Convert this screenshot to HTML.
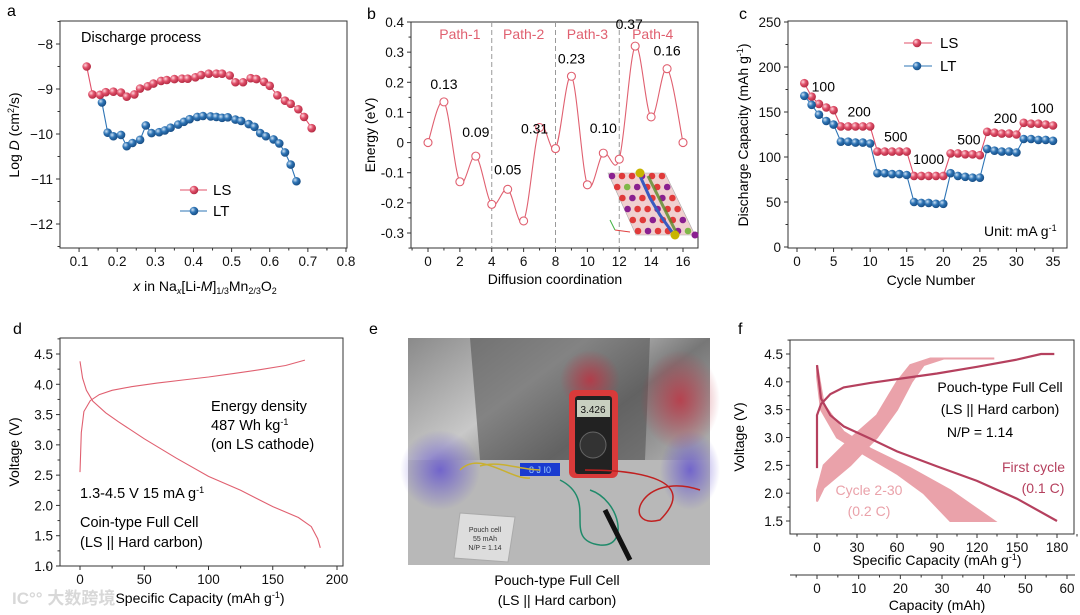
<!DOCTYPE html>
<html><head><meta charset="utf-8">
<style>
html,body{margin:0;padding:0;background:#fff;}
svg{display:block;font-family:"Liberation Sans","Noto Sans CJK SC",sans-serif;}
</style></head>
<body>
<svg id="fig" width="1080" height="615" viewBox="0 0 1080 615" xmlns="http://www.w3.org/2000/svg">
<defs>
<radialGradient id="gr" cx="0.35" cy="0.35" r="0.7"><stop offset="0" stop-color="#ffd6dc"/><stop offset="0.45" stop-color="#e0506a"/><stop offset="1" stop-color="#b02840"/></radialGradient>
<radialGradient id="gb" cx="0.35" cy="0.35" r="0.7"><stop offset="0" stop-color="#cfe3f5"/><stop offset="0.45" stop-color="#2e74b5"/><stop offset="1" stop-color="#164a80"/></radialGradient>
<linearGradient id="photo" x1="0" y1="0" x2="1" y2="1"><stop offset="0" stop-color="#8a8a8a"/><stop offset="0.3" stop-color="#c8c8c8"/><stop offset="0.5" stop-color="#777"/><stop offset="0.8" stop-color="#bdbdbd"/><stop offset="1" stop-color="#999"/></linearGradient>
<radialGradient id="redglow" cx="0.5" cy="0.5" r="0.5"><stop offset="0" stop-color="#c03040" stop-opacity="0.8"/><stop offset="1" stop-color="#c03040" stop-opacity="0"/></radialGradient>
<radialGradient id="blueglow" cx="0.5" cy="0.5" r="0.5"><stop offset="0" stop-color="#6050d0" stop-opacity="0.8"/><stop offset="1" stop-color="#6050d0" stop-opacity="0"/></radialGradient>
</defs>
</svg>
<script>
// ---------- Panel a data ----------
const aLSx=[0.12,0.135,0.155,0.17,0.19,0.21,0.225,0.245,0.26,0.28,0.295,0.315,0.33,0.35,0.37,0.385,0.405,0.42,0.44,0.46,0.475,0.495,0.51,0.53,0.55,0.565,0.585,0.60,0.62,0.64,0.655,0.675,0.69,0.71];
const aLSy=[-8.5,-9.12,-9.13,-9.07,-9.06,-9.08,-9.17,-9.12,-8.99,-8.94,-8.88,-8.82,-8.80,-8.78,-8.77,-8.77,-8.74,-8.69,-8.66,-8.66,-8.66,-8.70,-8.85,-8.85,-8.76,-8.78,-8.84,-8.93,-9.14,-9.26,-9.33,-9.45,-9.62,-9.87];
const aLTx=[0.16,0.175,0.19,0.21,0.225,0.24,0.26,0.275,0.29,0.31,0.325,0.34,0.36,0.375,0.39,0.41,0.425,0.445,0.46,0.475,0.49,0.51,0.525,0.545,0.56,0.575,0.59,0.61,0.625,0.64,0.655,0.67];
const aLTy=[-9.3,-9.97,-10.05,-10.02,-10.27,-10.2,-10.13,-9.81,-9.98,-9.96,-9.92,-9.86,-9.79,-9.73,-9.67,-9.62,-9.6,-9.61,-9.62,-9.64,-9.63,-9.68,-9.71,-9.78,-9.84,-9.98,-10.05,-10.12,-10.21,-10.41,-10.68,-11.05];
const aXTicks=["0.1","0.2","0.3","0.4","0.5","0.6","0.7","0.8"];
const aYTicks=["−8","−9","−10","−11","−12"];
// ---------- Panel b data ----------
const bX=[0,1,2,3,4,5,6,7,8,9,10,11,12,13,14,15,16];
const bY=[0,0.135,-0.13,-0.045,-0.205,-0.155,-0.26,0.05,-0.02,0.22,-0.14,-0.035,-0.055,0.32,0.085,0.245,0];
const bBarrierX=[1,3,5,7,9,11,13,15];
const bBarrierLabels=["0.13","0.09","0.05","0.31","0.23","0.10","0.37","0.16"];
const bXTicks=["0","2","4","6","8","10","12","14","16"];
const bYTicks=["0.4","0.3","0.2","0.1","0","-0.1","-0.2","-0.3"];
const bPaths=["Path-1","Path-2","Path-3","Path-4"];
// ---------- Panel c data ----------
const cCycles=[1,2,3,4,5,6,7,8,9,10,11,12,13,14,15,16,17,18,19,20,21,22,23,24,25,26,27,28,29,30,31,32,33,34,35];
const cLS=[182,167,159,155,152,134,134,134,134,134,106,106,106,106,106,79,79,79,79,79,104,104,103,103,102,128,127,126,126,125,138,137,137,136,135];
const cLT=[168,158,147,140,136,117,117,116,116,115,82,82,81,81,80,50,49,49,48,48,82,79,78,77,77,109,107,106,106,105,120,120,119,119,118];
const cRates=["100","200","500","1000","500","200","100"];
const cRateX=[3.6,8.5,13.5,18,23.5,28.5,33.5];
const cRateY=[173,145,117,92,114,138,149];
const cXTicks=["0","5","10","15","20","25","30","35"];
const cYTicks=["0","50","100","150","200","250"];
// ---------- Panel d data ----------
const dChgX=[0,1,3,8,15,25,40,60,80,100,120,140,160,175];
const dChgY=[2.55,3.2,3.55,3.73,3.83,3.9,3.96,4.02,4.07,4.12,4.18,4.24,4.31,4.4];
const dDisX=[0,2,5,10,20,30,50,75,100,125,150,170,180,185,187];
const dDisY=[4.38,4.1,3.9,3.72,3.53,3.38,3.1,2.78,2.48,2.25,1.98,1.8,1.65,1.45,1.3];
const dXTicks=["0","50","100","150","200"];
const dYTicks=["1.0","1.5","2.0","2.5","3.0","3.5","4.0","4.5"];
// ---------- Panel f data ----------
const fChgX=[0,0,3,10,20,40,60,90,120,150,168,178];
const fChgY=[2.45,3.4,3.6,3.78,3.9,3.98,4.05,4.15,4.27,4.4,4.5,4.5];
const fDisX=[0,3,10,20,40,60,90,120,150,180];
const fDisY=[4.3,3.7,3.4,3.2,2.98,2.75,2.48,2.22,1.9,1.5];
const fBandChgAX=[0,0,5,26,45,60,70,85,133];
const fBandChgAY=[1.85,2.05,2.5,3.0,3.4,4.0,4.3,4.42,4.42];
const fBandChgBX=[0,5,25,45,60,71,80,95];
const fBandChgBY=[1.85,2.1,2.5,3.0,3.5,4.0,4.3,4.42];
const fBandDisAX=[0,5,20,40,70,100,115,133];
const fBandDisAY=[4.3,3.6,3.1,2.8,2.45,2.05,1.8,1.5];
const fBandDisBX=[0,3,15,35,60,80,92,100];
const fBandDisBY=[4.1,3.5,3.0,2.7,2.35,2.0,1.7,1.5];
const fXTicks=["0","30","60","90","120","150","180"];
const fX2Ticks=["0","10","20","30","40","50","60"];
const fYTicks=["1.5","2.0","2.5","3.0","3.5","4.0","4.5"];

const NS="http://www.w3.org/2000/svg";
const svg=document.getElementById('fig');
function mk(tag,attrs,parent,text){const e=document.createElementNS(NS,tag);for(const k in attrs)e.setAttribute(k,attrs[k]);if(text!==undefined)e.textContent=text;(parent||svg).appendChild(e);return e;}
function lin(d0,d1,p0,p1){return v=>p0+(v-d0)*(p1-p0)/(d1-d0);}
function poly(xs,ys,sx,sy){return xs.map((x,i)=>sx(x).toFixed(1)+','+sy(ys[i]).toFixed(1)).join(' ');}
function smooth(xs,ys,sx,sy){const P=xs.map((x,i)=>[sx(x),sy(ys[i])]);let d='M'+P[0][0]+','+P[0][1];for(let i=0;i<P.length-1;i++){const p0=P[i-1]||P[i],p1=P[i],p2=P[i+1],p3=P[i+2]||p2;d+=' C'+(p1[0]+(p2[0]-p0[0])/6)+','+(p1[1]+(p2[1]-p0[1])/6)+' '+(p2[0]-(p3[0]-p1[0])/6)+','+(p2[1]-(p3[1]-p1[1])/6)+' '+p2[0]+','+p2[1];}return d;}
function box(g,l,t,r,b){mk('rect',{x:l,y:t,width:r-l,height:b-t,fill:'none',stroke:'#333','stroke-width':1},g);}
function xticks(g,vals,labels,sx,y,minorVals,fs){vals.forEach((v,i)=>{const x=sx(v);mk('line',{x1:x,y1:y,x2:x,y2:y+4,stroke:'#333'},g);const t=mk('text',{x:x,y:y+18,'text-anchor':'middle','font-size':fs||13.5,fill:'#111'},g,labels[i]);});(minorVals||[]).forEach(v=>{const x=sx(v);mk('line',{x1:x,y1:y,x2:x,y2:y+2.5,stroke:'#333'},g);});}
function yticks(g,vals,labels,sy,x,minorVals,fs){vals.forEach((v,i)=>{const y=sy(v);mk('line',{x1:x,y1:y,x2:x-4,y2:y,stroke:'#333'},g);const t=mk('text',{x:x-7,y:y+5,'text-anchor':'end','font-size':fs||13.5,fill:'#111'},g,labels[i]);});(minorVals||[]).forEach(v=>{const y=sy(v);mk('line',{x1:x,y1:y,x2:x-2.5,y2:y,stroke:'#333'},g);});}
function group(name){const g=mk('g',{});return g;}
function label(g,name,attrs,text){const t=mk('text',attrs,g,text);return t;}
function mids(a){const r=[];for(let i=0;i<a.length-1;i++)r.push((a[i]+a[i+1])/2);return r;}

// ================= Panel a =================
(function(){
const g=group('panel-a');
const L=60,T=21,R=347,B=248;
const sx=lin(0.05,0.8,60,346), sy=lin(-8,-12,44,224);
label(g,'panel-letter',{x:7,y:16,'font-size':16},'a');
box(g,L,T,R,B);
const xv=aXTicks.map(Number);
xticks(g,xv,aXTicks,sx,B,mids(xv).concat([0.75]));
const yv=[-8,-9,-10,-11,-12];
yticks(g,yv,aYTicks,sy,L,mids(yv).concat([-7.5,-12.5]));
label(g,'y-axis-title',{transform:'translate(19,135) rotate(-90)','text-anchor':'middle','font-size':14},'').innerHTML='Log <tspan font-style="italic">D</tspan> (cm<tspan font-size="9" dy="-5">2</tspan><tspan dy="5">/s)</tspan>';
label(g,'x-axis-title',{x:205,y:291,'text-anchor':'middle','font-size':14},'').innerHTML='<tspan font-style="italic">x</tspan> in Na<tspan font-size="9" dy="3" font-style="italic">x</tspan><tspan dy="-3">[Li-</tspan><tspan font-style="italic">M</tspan>]<tspan font-size="9" dy="3">1/3</tspan><tspan dy="-3">Mn</tspan><tspan font-size="9" dy="3">2/3</tspan><tspan dy="-3">O</tspan><tspan font-size="9" dy="3">2</tspan>';
label(g,'annotation',{x:81,y:42,'font-size':14.5},'Discharge process');
[[aLTx,aLTy,'#2e74b5','gb','series-lt'],[aLSx,aLSy,'#e0506a','gr','series-ls']].forEach(s=>{
 const sg=mk('g',{},g);
 mk('polyline',{points:poly(s[0],s[1],sx,sy),fill:'none',stroke:s[2],'stroke-width':1.1},sg);
 s[0].forEach((x,i)=>{const c=mk('circle',{cx:sx(x),cy:sy(s[1][i]),r:4.3,fill:'url(#'+s[3]+')'},sg);});
});
[['LS',190,'#e0506a','gr'],['LT',211,'#2e74b5','gb']].forEach(l=>{const lg=mk('g',{},g);mk('line',{x1:180,y1:l[1],x2:207,y2:l[1],stroke:l[2],'stroke-width':1.1},lg);mk('circle',{cx:194,cy:l[1],r:4.3,fill:'url(#'+l[3]+')'},lg);mk('text',{x:213,y:l[1]+5,'font-size':15},lg,l[0]);});
})();

// ================= Panel b =================
(function(){
const g=group('panel-b');
const L=411,T=22,R=698,B=248;
const sx=lin(0,16,428,683), sy=lin(0.4,-0.3,22,233);
label(g,'panel-letter',{x:367,y:19,'font-size':16},'b');
box(g,L,T,R,B);
const xv=bXTicks.map(Number);
xticks(g,xv,bXTicks,sx,B,mids(xv).concat([-1,17]).filter(v=>sx(v)>L&&sx(v)<R));
const yv=bYTicks.map(Number);
yticks(g,yv,bYTicks,sy,L,mids(yv).concat([-0.35]));
label(g,'y-axis-title',{transform:'translate(375,135) rotate(-90)','text-anchor':'middle','font-size':14},'Energy (eV)');
label(g,'x-axis-title',{x:555,y:284,'text-anchor':'middle','font-size':14},'Diffusion coordination');
[4,8,12].forEach(v=>{const l=mk('line',{x1:sx(v),y1:T,x2:sx(v),y2:B,stroke:'#999','stroke-dasharray':'5,3','stroke-width':1},g);});
const pathX=[2,6,10,14.1];
bPaths.forEach((p,i)=>label(g,'path-label',{x:sx(pathX[i]),y:39,'text-anchor':'middle','font-size':14,fill:'#e06070'},p));
// inset crystal
const ig=mk('g',{},g);
mk('polygon',{points:'608,173 665,173 695,235 636,235',fill:'#f0d0d0',stroke:'#aaa','stroke-width':0.6},ig);
for(let r=0;r<6;r++)for(let c=0;c<6;c++){const x=612+c*10+r*5.2,y=176+r*11;mk('circle',{cx:x,cy:y,r:3.3,fill:(r+c)%3==0?'#8a2090':((r*c)%4==1?'#7fb848':'#e03a3a')},ig);}
mk('path',{d:'M640,176 L650,198 L660,215 L672,232',stroke:'#3a5bc0','stroke-width':3,fill:'none'},ig);
mk('path',{d:'M648,176 L665,210 L676,232',stroke:'#5a8a28','stroke-width':3,fill:'none',opacity:0.8},ig);
mk('circle',{cx:640,cy:173,r:4.5,fill:'#c8b400'},ig);mk('circle',{cx:675,cy:235,r:4.5,fill:'#c8b400'},ig);mk('circle',{cx:695,cy:235,r:3.5,fill:'#8a2090'},ig);
mk('line',{x1:615,y1:230,x2:630,y2:232,stroke:'#e04040'},ig);mk('line',{x1:615,y1:230,x2:610,y2:220,stroke:'#40b040'},ig);
// curve
const sg=mk('g',{},g);
mk('path',{d:smooth(bX,bY,sx,sy),fill:'none',stroke:'#e06070','stroke-width':1.1},sg);
bX.forEach((x,i)=>{const c=mk('circle',{cx:sx(x),cy:sy(bY[i]),r:4,fill:'#fff',stroke:'#e06070','stroke-width':1.1},sg);});
bBarrierLabels.forEach((t,i)=>{const xi=bBarrierX[i];label(g,'barrier-label',{x:sx(xi)+(i==3?-5:0)+(i==6?-6:0),y:sy(bY[xi])-(i==3?-6:13)+(i==6?-4:0)+(i==2?-2:0)+(i==1?-6:0)+(i==5?-7:0),'text-anchor':'middle','font-size':14},t);});
})();

// ================= Panel c =================
(function(){
const g=group('panel-c');
const L=788,T=21,R=1067,B=248;
const sx=lin(0,35,797,1053), sy=lin(0,250,247,22);
label(g,'panel-letter',{x:739,y:19,'font-size':16},'c');
box(g,L,T,R,B);
const xv=cXTicks.map(Number);
xticks(g,xv,cXTicks,sx,B,mids(xv));
const yv=cYTicks.map(Number);
yticks(g,yv,cYTicks,sy,L,mids(yv));
label(g,'y-axis-title',{transform:'translate(748,135) rotate(-90)','text-anchor':'middle','font-size':14},'').innerHTML='Discharge Capacity (mAh g<tspan font-size="9" dy="-5">-1</tspan><tspan dy="5">)</tspan>';
label(g,'x-axis-title',{x:931,y:285,'text-anchor':'middle','font-size':14},'Cycle Number');
[[cLS,'#e0506a','gr','series-ls'],[cLT,'#2e74b5','gb','series-lt']].forEach(s=>{
 const sg=mk('g',{},g);
 mk('polyline',{points:poly(cCycles,s[0],sx,sy),fill:'none',stroke:s[1],'stroke-width':1.1},sg);
 cCycles.forEach((x,i)=>{const c=mk('circle',{cx:sx(x),cy:sy(s[0][i]),r:4.3,fill:'url(#'+s[2]+')'},sg);});
});
cRates.forEach((t,i)=>label(g,'rate-label',{x:sx(cRateX[i]),y:sy(cRateY[i]),'text-anchor':'middle','font-size':14},t));
[['LS',43,'#e0506a','gr'],['LT',66,'#2e74b5','gb']].forEach(l=>{const lg=mk('g',{},g);mk('line',{x1:904,y1:l[1],x2:932,y2:l[1],stroke:l[2],'stroke-width':1.1},lg);mk('circle',{cx:917,cy:l[1],r:4.3,fill:'url(#'+l[3]+')'},lg);mk('text',{x:940,y:l[1]+5,'font-size':15},lg,l[0]);});
label(g,'unit-note',{x:984,y:236,'font-size':14},'').innerHTML='Unit: mA g<tspan font-size="9" dy="-5">-1</tspan>';
})();

// ================= Panel d =================
(function(){
const g=group('panel-d');
const L=60,T=338,R=343,B=566;
const sx=lin(0,200,80,337), sy=lin(4.5,1.0,354,566);
label(g,'panel-letter',{x:13,y:334,'font-size':16},'d');
box(g,L,T,R,B);
const xv=dXTicks.map(Number);
xticks(g,xv,dXTicks,sx,B,mids(xv).concat([-25]));
const yv=dYTicks.map(Number);
yticks(g,yv,dYTicks,sy,L,mids(yv).concat([4.75]));
label(g,'y-axis-title',{transform:'translate(19,452) rotate(-90)','text-anchor':'middle','font-size':14},'Voltage (V)');
label(g,'x-axis-title',{x:200,y:603,'text-anchor':'middle','font-size':14},'').innerHTML='Specific Capacity (mAh g<tspan font-size="9" dy="-5">-1</tspan><tspan dy="5">)</tspan>';
const c1=mk('polyline',{points:poly(dChgX,dChgY,sx,sy),fill:'none',stroke:'#e06070','stroke-width':1.1},g);
const c2=mk('polyline',{points:poly(dDisX,dDisY,sx,sy),fill:'none',stroke:'#e06070','stroke-width':1.1},g);
label(g,'annotation',{x:211,y:411,'font-size':14.5},'Energy density');
label(g,'annotation',{x:211,y:430,'font-size':14.5},'').innerHTML='487 Wh kg<tspan font-size="9" dy="-5">-1</tspan>';
label(g,'annotation',{x:211,y:449,'font-size':14.5},'(on  LS cathode)');
label(g,'annotation',{x:80,y:498,'font-size':14.5},'').innerHTML='1.3-4.5 V  15 mA g<tspan font-size="9" dy="-5">-1</tspan>';
label(g,'annotation',{x:80,y:527,'font-size':14.5},'Coin-type Full Cell');
label(g,'annotation',{x:80,y:547,'font-size':14.5},'(LS || Hard carbon)');
label(g,'watermark',{x:12,y:604,'font-size':17,fill:'#d8d8d8','font-weight':'bold'},'IC°° 大数跨境');
})();

// ================= Panel e (photo) =================
(function(){
const g=group('panel-e');
label(g,'panel-letter',{x:369,y:334,'font-size':16},'e');
const pg=mk('g',{},g);
mk('rect',{x:408,y:338,width:302,height:227,fill:'url(#photo)'},pg);
mk('polygon',{points:'470,338 650,338 645,460 480,460',fill:'#555',opacity:0.6},pg);
mk('polygon',{points:'408,460 710,460 710,565 408,565',fill:'#b8b8b8'},pg);
mk('ellipse',{cx:440,cy:470,rx:40,ry:40,fill:'url(#blueglow)'},pg);
mk('ellipse',{cx:690,cy:470,rx:30,ry:40,fill:'url(#blueglow)'},pg);
mk('ellipse',{cx:680,cy:400,rx:40,ry:50,fill:'url(#redglow)'},pg);
mk('ellipse',{cx:590,cy:380,rx:30,ry:30,fill:'url(#redglow)'},pg);
mk('rect',{x:569,y:390,width:49,height:88,rx:6,fill:'#d93a3a'},pg);
mk('rect',{x:575,y:396,width:37,height:78,rx:3,fill:'#222'},pg);
mk('rect',{x:577,y:400,width:33,height:17,fill:'#c8cfc0'},pg);
mk('text',{x:593,y:413,'text-anchor':'middle','font-size':10,fill:'#111'},pg,'3.426');
mk('circle',{cx:593,cy:445,r:13,fill:'#333',stroke:'#666'},pg);
mk('rect',{x:520,y:463,width:40,height:13,fill:'#1a3bd0'},pg);
mk('text',{x:540,y:473,'text-anchor':'middle','font-size':9,fill:'#9cf'},pg,'8 J I0');
mk('path',{d:'M460,470 C480,450 510,480 530,478 M480,466 C500,460 520,470 540,470',stroke:'#c9b030','stroke-width':1.5,fill:'none'},pg);
mk('path',{d:'M560,480 C600,500 560,540 600,545 C630,548 620,500 590,490',stroke:'#1f8a6a','stroke-width':1.5,fill:'none'},pg);
mk('path',{d:'M585,470 C640,470 700,480 660,520 C620,530 640,470 700,490',stroke:'#c02020','stroke-width':1.5,fill:'none'},pg);
mk('line',{x1:605,y1:510,x2:630,y2:560,stroke:'#111','stroke-width':5},pg);
mk('polygon',{points:'460,513 515,517 508,562 454,558',fill:'#ddd',stroke:'#aaa'},pg);
mk('text',{x:485,y:532,'text-anchor':'middle','font-size':7,fill:'#333'},pg,'Pouch cell');
mk('text',{x:485,y:541,'text-anchor':'middle','font-size':7,fill:'#333'},pg,'55 mAh');
mk('text',{x:485,y:550,'text-anchor':'middle','font-size':7,fill:'#333'},pg,'N/P = 1.14');
label(g,'caption',{x:557,y:585,'text-anchor':'middle','font-size':14},'Pouch-type Full Cell');
label(g,'caption',{x:557,y:605,'text-anchor':'middle','font-size':14},'(LS || Hard carbon)');
})();

// ================= Panel f =================
(function(){
const g=group('panel-f');
const L=790,T=340,R=1074,B=534;
const sx=lin(0,180,817,1057), sy=lin(4.5,1.5,354,521);
const sx2=lin(0,60,817,1067);
label(g,'panel-letter',{x:738,y:334,'font-size':16},'f');
box(g,L,T,R,B);
const xv=fXTicks.map(Number);
xticks(g,xv,fXTicks,sx,B,mids(xv).concat([-15,195]));
const yv=fYTicks.map(Number);
yticks(g,yv,fYTicks,sy,L,mids(yv).concat([4.75]));
mk('line',{x1:L,y1:575,x2:1075,y2:575,stroke:'#333'},g);
const x2v=fX2Ticks.map(Number);
xticks(g,x2v,fX2Ticks,sx2,575,mids(x2v).concat([-5]));
label(g,'y-axis-title',{transform:'translate(744,437) rotate(-90)','text-anchor':'middle','font-size':14},'Voltage (V)');
label(g,'x-axis-title',{x:937,y:565,'text-anchor':'middle','font-size':14},'').innerHTML='Specific Capacity (mAh g<tspan font-size="9" dy="-5">-1</tspan><tspan dy="5">)</tspan>';
label(g,'x2-axis-title',{x:937,y:610,'text-anchor':'middle','font-size':14},'Capacity (mAh)');
const band1=mk('polygon',{points:poly(fBandChgAX,fBandChgAY,sx,sy)+' '+poly(fBandChgBX.slice().reverse(),fBandChgBY.slice().reverse(),sx,sy),fill:'#eaa2aa',stroke:'#eaa2aa','stroke-width':2},g);
const band2=mk('polygon',{points:poly(fBandDisAX,fBandDisAY,sx,sy)+' '+poly(fBandDisBX.slice().reverse(),fBandDisBY.slice().reverse(),sx,sy),fill:'#eaa2aa',stroke:'#eaa2aa','stroke-width':2},g);
const c1=mk('polyline',{points:poly(fChgX,fChgY,sx,sy),fill:'none',stroke:'#b5405e','stroke-width':2.2},g);
const c2=mk('polyline',{points:poly(fDisX,fDisY,sx,sy),fill:'none',stroke:'#b5405e','stroke-width':2.2},g);
label(g,'annotation',{x:1000,y:392,'text-anchor':'middle','font-size':14},'Pouch-type Full Cell');
label(g,'annotation',{x:1000,y:414,'text-anchor':'middle','font-size':14},'(LS || Hard carbon)');
label(g,'annotation',{x:980,y:437,'text-anchor':'middle','font-size':14},'N/P = 1.14');
label(g,'first-cycle-label',{x:1065,y:472,'text-anchor':'end','font-size':14,fill:'#b5405e'},'First cycle');
label(g,'first-cycle-label',{x:1043,y:493,'text-anchor':'middle','font-size':14,fill:'#b5405e'},'(0.1 C)');
label(g,'cycles-label',{x:869,y:495,'text-anchor':'middle','font-size':14,fill:'#eaa2aa'},'Cycle 2-30');
label(g,'cycles-label',{x:869,y:516,'text-anchor':'middle','font-size':14,fill:'#eaa2aa'},'(0.2 C)');
})();
</script>
</body></html>
